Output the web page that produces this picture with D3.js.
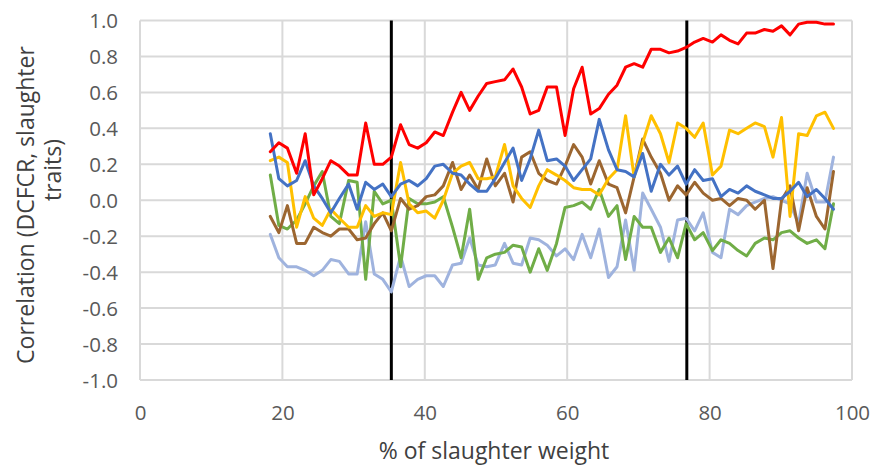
<!DOCTYPE html>
<html>
<head>
<meta charset="utf-8">
<script src="https://cdn.jsdelivr.net/npm/d3@7"></script>
<style>
  html, body { margin: 0; padding: 0; background: #ffffff; }
  svg { display: block; }
  text { font-family: "Open Sans", "Noto Sans", sans-serif; }
</style>
</head>
<body>
<div id="chart"></div>
<script>
// Percent of slaughter weight at which each correlation was estimated
const pctWeight = [18.3,19.5,20.7,22.0,23.2,24.4,25.6,26.8,28.0,29.3,
  30.5,31.7,32.9,34.1,35.3,36.6,37.8,39.0,40.2,41.4,
  42.6,43.9,45.1,46.3,47.5,48.7,49.9,51.2,52.4,53.6,
  54.8,56.0,57.2,58.5,59.7,60.9,62.1,63.3,64.5,65.8,
  67.0,68.2,69.4,70.6,71.8,73.1,74.3,75.5,76.7,77.9,
  79.1,80.4,81.6,82.8,84.0,85.2,86.4,87.7,88.9,90.1,
  91.3,92.5,93.7,95.0,96.2,97.4];

// Correlations of DCFCR with the slaughter traits
const seriesBlue = [0.37,0.12,0.08,0.11,0.22,0.08,0.01,-0.07,0.01,0.09,
  -0.05,0.10,0.06,0.09,0.02,0.09,0.11,0.08,0.12,0.19,
  0.20,0.15,0.14,0.09,0.05,0.05,0.12,0.21,0.29,0.11,
  0.23,0.39,0.22,0.23,0.19,0.11,0.17,0.23,0.45,0.28,
  0.17,0.16,0.13,0.26,0.05,0.20,0.14,0.19,0.09,0.17,
  0.11,0.12,0.02,0.06,0.04,0.08,0.05,0.03,0.01,0.01,
  0.05,0.10,0.02,0.06,0.01,-0.05];
const seriesRed = [0.27,0.32,0.29,0.15,0.37,0.03,0.12,0.22,0.19,0.14,
  0.14,0.43,0.20,0.20,0.24,0.42,0.31,0.29,0.32,0.38,
  0.36,0.49,0.60,0.50,0.58,0.65,0.66,0.67,0.73,0.63,
  0.48,0.50,0.63,0.63,0.36,0.62,0.74,0.48,0.51,0.59,
  0.64,0.74,0.76,0.74,0.84,0.84,0.82,0.83,0.85,0.88,
  0.90,0.88,0.92,0.89,0.87,0.93,0.93,0.95,0.94,0.97,
  0.92,0.98,0.99,0.99,0.98,0.98];
const seriesYellow = [0.22,0.24,0.21,-0.15,0.02,-0.10,-0.14,-0.05,-0.10,-0.15,
  -0.15,-0.03,-0.09,-0.07,-0.08,0.21,-0.02,-0.07,-0.06,-0.10,
  0.00,0.15,0.19,0.21,0.12,0.12,0.13,0.31,0.08,0.01,
  -0.04,0.08,0.17,0.14,0.11,0.07,0.06,0.06,0.03,0.12,
  0.17,0.47,0.13,0.32,0.47,0.37,0.21,0.43,0.40,0.35,
  0.43,0.14,0.19,0.39,0.37,0.40,0.43,0.41,0.24,0.46,
  -0.09,0.37,0.36,0.47,0.49,0.40];
const seriesGreen = [0.14,-0.14,-0.16,-0.11,-0.02,0.08,0.16,-0.09,-0.13,0.11,
  0.10,-0.44,0.05,-0.02,0.00,-0.37,0.01,-0.02,-0.02,-0.01,
  0.02,-0.15,-0.32,-0.05,-0.44,-0.32,-0.30,-0.29,-0.25,-0.26,
  -0.40,-0.27,-0.39,-0.24,-0.04,-0.03,-0.01,-0.05,0.06,-0.09,
  -0.03,-0.33,-0.09,-0.15,-0.15,-0.29,-0.21,-0.32,-0.13,-0.22,
  -0.18,-0.28,-0.22,-0.24,-0.28,-0.31,-0.24,-0.21,-0.22,-0.18,
  -0.17,-0.21,-0.24,-0.22,-0.27,-0.02];
const seriesBrown = [-0.09,-0.18,-0.03,-0.24,-0.24,-0.15,-0.18,-0.20,-0.16,-0.16,
  -0.22,-0.21,-0.13,-0.07,-0.17,0.01,-0.05,-0.03,0.02,0.03,
  0.08,0.21,0.06,0.14,0.06,0.23,0.08,0.15,-0.01,0.24,
  0.27,0.15,0.11,0.09,0.19,0.31,0.24,0.09,0.22,0.09,
  0.07,-0.07,0.13,0.34,0.24,0.15,0.00,0.08,0.03,0.10,
  0.04,0.00,0.01,-0.03,0.01,0.00,-0.05,0.00,-0.38,0.00,
  0.08,-0.17,0.07,-0.09,-0.16,0.16];
const seriesLavender = [-0.19,-0.32,-0.37,-0.37,-0.39,-0.42,-0.39,-0.33,-0.34,-0.41,
  -0.41,-0.12,-0.41,-0.44,-0.51,-0.31,-0.48,-0.44,-0.42,-0.42,
  -0.48,-0.36,-0.35,-0.21,-0.36,-0.37,-0.36,-0.24,-0.35,-0.36,
  -0.21,-0.22,-0.25,-0.31,-0.27,-0.33,-0.19,-0.32,-0.16,-0.43,
  -0.37,-0.11,-0.39,0.04,-0.05,-0.15,-0.34,-0.11,-0.10,-0.17,
  -0.07,-0.29,-0.32,-0.05,-0.08,-0.03,-0.01,0.01,0.02,0.00,
  -0.02,-0.13,0.15,-0.01,-0.01,0.24];

// Phase boundaries (% of slaughter weight)
const phaseBounds = [35.3, 76.8];

// Axis ticks
const xTickValues = [0, 20, 40, 60, 80, 100];
const yTickValues = [-1.0, -0.8, -0.6, -0.4, -0.2, 0.0, 0.2, 0.4, 0.6, 0.8, 1.0];

const seriesList = [
  { values: seriesLavender, color: "#9fb3de" },
  { values: seriesGreen,    color: "#70ad47" },
  { values: seriesBrown,    color: "#9c6630" },
  { values: seriesYellow,   color: "#ffc000" },
  { values: seriesBlue,     color: "#4472c4" },
  { values: seriesRed,      color: "#ff0000" }
];

const W = 874, H = 466;
const margin = { left: 140, right: 22, top: 20.5, bottom: 86 };

const svg = d3.select("#chart").append("svg")
  .attr("width", W).attr("height", H);

svg.append("rect").attr("width", W).attr("height", H).attr("fill", "#ffffff");

const x = d3.scaleLinear().domain([0, 100]).range([margin.left, W - margin.right]);
const y = d3.scaleLinear().domain([-1, 1]).range([H - margin.bottom, margin.top]);

// Gridlines
const grid = svg.append("g").attr("class", "grid");
grid.selectAll("line.h").data(yTickValues).join("line")
  .attr("class", "h")
  .attr("x1", x(0)).attr("x2", x(100))
  .attr("y1", d => y(d)).attr("y2", d => y(d))
  .attr("stroke", "#d9d9d9").attr("stroke-width", 2);
grid.selectAll("line.v").data(xTickValues).join("line")
  .attr("class", "v")
  .attr("x1", d => x(d)).attr("x2", d => x(d))
  .attr("y1", y(1)).attr("y2", y(-1))
  .attr("stroke", "#d9d9d9").attr("stroke-width", 2);

// Axes (labels only, no tick marks)
const xAxis = d3.axisBottom(x).tickValues(xTickValues).tickSize(0).tickPadding(0)
  .tickFormat(d3.format("d"));
const gx = svg.append("g").attr("transform", `translate(0, ${y(-1)})`).call(xAxis);
gx.select(".domain").remove();
gx.selectAll("text")
  .attr("y", 40).attr("dy", null)
  .attr("fill", "#595959")
  .style("font-size", "20.5px")
  .style("font-family", "'Open Sans', sans-serif");

const yAxis = d3.axisLeft(y).tickValues(yTickValues).tickSize(0).tickPadding(0)
  .tickFormat(d3.format(".1f"));
const gy = svg.append("g").attr("transform", `translate(${x(0) - 22}, 0)`).call(yAxis);
gy.select(".domain").remove();
gy.selectAll("text")
  .attr("x", 0).attr("dy", "0.36em")
  .attr("fill", "#595959")
  .style("font-size", "20.5px")
  .style("font-family", "'Open Sans', sans-serif")
  .text(d => d3.format(".1f")(d).replace("−", "-"));

// Phase boundary lines
svg.append("g").selectAll("line").data(phaseBounds).join("line")
  .attr("x1", d => x(d)).attr("x2", d => x(d))
  .attr("y1", y(1)).attr("y2", y(-1))
  .attr("stroke", "#000000").attr("stroke-width", 3);

// Correlation curves
const line = d3.line()
  .x((d, i) => x(pctWeight[i]))
  .y(d => y(d));

svg.append("g").selectAll("path").data(seriesList).join("path")
  .attr("d", s => line(s.values))
  .attr("fill", "none")
  .attr("stroke", s => s.color)
  .attr("stroke-width", 3)
  .attr("stroke-linejoin", "round")
  .attr("stroke-linecap", "round");

// Axis titles
svg.append("text")
  .attr("x", 494).attr("y", 459)
  .attr("text-anchor", "middle")
  .attr("fill", "#404040")
  .style("font-size", "23px")
  .text("% of slaughter weight");

const yTitle = svg.append("g");
yTitle.append("text")
  .attr("transform", "translate(34, 205) rotate(-90)")
  .attr("text-anchor", "middle")
  .attr("fill", "#404040")
  .style("font-size", "23px")
  .text("Correlation (DCFCR, slaughter");
yTitle.append("text")
  .attr("transform", "translate(61, 170) rotate(-90)")
  .attr("text-anchor", "middle")
  .attr("fill", "#404040")
  .style("font-size", "23px")
  .text("traits)");
</script>
</body>
</html>
